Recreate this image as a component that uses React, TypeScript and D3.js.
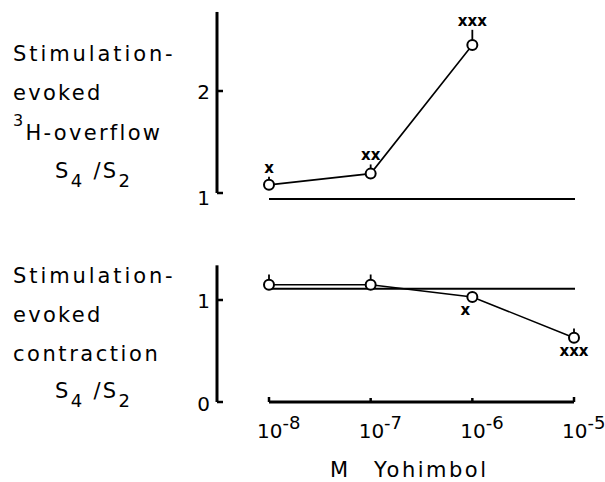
import React from "react";
import * as d3 from "d3";

const concentrations = [1e-8, 1e-7, 1e-6, 1e-5];
const tickExponents = ["-8", "-7", "-6", "-5"];
const overflowMean = [1.08, 1.19, 2.45];
const overflowErr = [0.08, 0.09, 0.15];
const overflowSig = ["x", "xx", "xxx"];
const overflowControl = 0.94;
const contractionMean = [1.15, 1.15, 1.03, 0.63];
const contractionErr = [0.1, 0.1, 0.05, 0.09];
const contractionSig = ["", "", "x", "xxx"];
const contractionControl = 1.11;
const overflowTicks = [1, 2];
const contractionTicks = [0, 1];

const FONT = "'DejaVu Sans', sans-serif";

export default function App() {
  const x = d3.scaleLog().domain([1e-8, 1e-5]).range([269, 574]);
  const yTop = d3.scaleLinear().domain([1, 2]).range([193, 91]);
  const yBot = d3.scaleLinear().domain([0, 1]).range([402, 300]);
  const line = (ys: d3.ScaleLinear<number, number>) =>
    d3
      .line<number>()
      .x((_, i) => x(concentrations[i]))
      .y((d) => ys(d));

  const axisX = 217;
  const xs = concentrations.map((c) => x(c));

  const renderPoints = (
    means: number[],
    errs: number[],
    sigs: string[],
    ys: d3.ScaleLinear<number, number>,
    sigAbove: boolean[]
  ) =>
    means.map((m, i) => {
      const cx = x(concentrations[i]);
      const cy = ys(m);
      const top = ys(m + errs[i]);
      const sy = sigAbove[i] ? top - 4 : cy + 18;
      return (
        <g key={i}>
          <line x1={cx} x2={cx} y1={cy - 5} y2={top} stroke="#000" strokeWidth={1.8} />
          <circle cx={cx} cy={cy} r={5} fill="#fff" stroke="#000" strokeWidth={2} />
          {sigs[i] && (
            <text
              x={sigAbove[i] ? cx : cx - (sigs[i].length === 1 ? 7 : 0)}
              y={sy}
              textAnchor="middle"
              fontFamily={FONT}
              fontWeight="bold"
              fontSize={15}
            >
              {sigs[i]}
            </text>
          )}
        </g>
      );
    });

  const labelStyle = { fontFamily: FONT, fontSize: 21, letterSpacing: 2.3 } as const;

  return (
    <svg width={605} height={482} style={{ position: "absolute", left: 0, top: 0 }}>
      <rect width={605} height={482} fill="#fff" />
      {/* Top panel y-axis */}
      <line x1={axisX} x2={axisX} y1={yTop(2.775)} y2={yTop(1)} stroke="#000" strokeWidth={3} />
      {overflowTicks.map((t) => (
        <g key={t}>
          <line x1={axisX} x2={axisX + 6} y1={yTop(t)} y2={yTop(t)} stroke="#000" strokeWidth={2.5} />
          <text x={210} y={yTop(t) + (t === 1 ? 12 : 8)} textAnchor="end" fontFamily={FONT} fontSize={20}>
            {t}
          </text>
        </g>
      ))}
      {/* Bottom panel y-axis */}
      <line x1={axisX} x2={axisX} y1={yBot(1.34)} y2={yBot(0)} stroke="#000" strokeWidth={3} />
      {contractionTicks.map((t) => (
        <g key={t}>
          <line x1={axisX} x2={axisX + 6} y1={yBot(t)} y2={yBot(t)} stroke="#000" strokeWidth={2.5} />
          <text x={210} y={yBot(t) + (t === 0 ? 9 : 8)} textAnchor="end" fontFamily={FONT} fontSize={20}>
            {t}
          </text>
        </g>
      ))}

      {/* Control lines */}
      <line x1={xs[0]} x2={xs[3] + 1} y1={yTop(overflowControl)} y2={yTop(overflowControl)} stroke="#000" strokeWidth={2} />
      <line x1={xs[0]} x2={xs[3] + 1} y1={yBot(contractionControl)} y2={yBot(contractionControl)} stroke="#000" strokeWidth={2} />

      {/* Data lines */}
      <path d={line(yTop)(overflowMean) || ""} fill="none" stroke="#000" strokeWidth={1.6} />
      <path d={line(yBot)(contractionMean) || ""} fill="none" stroke="#000" strokeWidth={1.6} />
      {renderPoints(overflowMean, overflowErr, overflowSig, yTop, [true, true, true])}
      {renderPoints(contractionMean, contractionErr, contractionSig, yBot, [false, false, false, false])}

      {/* X axis */}
      <line x1={xs[0]} x2={xs[3]} y1={yBot(0)} y2={yBot(0)} stroke="#000" strokeWidth={3} />
      {xs.map((px, i) => (
        <g key={i}>
          <line x1={px} x2={px} y1={yBot(0)} y2={yBot(0) - (i === 0 || i === 3 ? 5 : 4)} stroke="#000" strokeWidth={2.5} />
          <text x={px - 12} y={438} fontFamily={FONT} fontSize={20}>
            10
            <tspan dy={-9} fontSize={18}>
              {tickExponents[i]}
            </tspan>
          </text>
        </g>
      ))}
      <text x={330} y={477} fontFamily={FONT} fontSize={21} letterSpacing={2.5}>
        M
      </text>
      <text x={374} y={477} fontFamily={FONT} fontSize={21} letterSpacing={2.5}>
        Yohimbol
      </text>

      {/* Left labels top */}
      <g {...labelStyle}>
        <text x={13} y={61} textLength={162}>Stimulation-</text>
        <text x={13} y={100}>evoked</text>
        <text x={13} y={140}>
          <tspan fontSize={16} dy={-14}>3</tspan>
          <tspan dy={14}>H-overflow</tspan>
        </text>
        <text x={55} y={178}>
          S<tspan dy={9} fontSize={18}>4</tspan>
          <tspan dy={-9}> /S</tspan>
          <tspan dy={9} fontSize={18}>2</tspan>
        </text>
      </g>
      {/* Left labels bottom */}
      <g {...labelStyle}>
        <text x={13} y={283} textLength={162}>Stimulation-</text>
        <text x={13} y={322}>evoked</text>
        <text x={13} y={361} textLength={147}>contraction</text>
        <text x={55} y={398}>
          S<tspan dy={9} fontSize={18}>4</tspan>
          <tspan dy={-9}> /S</tspan>
          <tspan dy={9} fontSize={18}>2</tspan>
        </text>
      </g>
    </svg>
  );
}
